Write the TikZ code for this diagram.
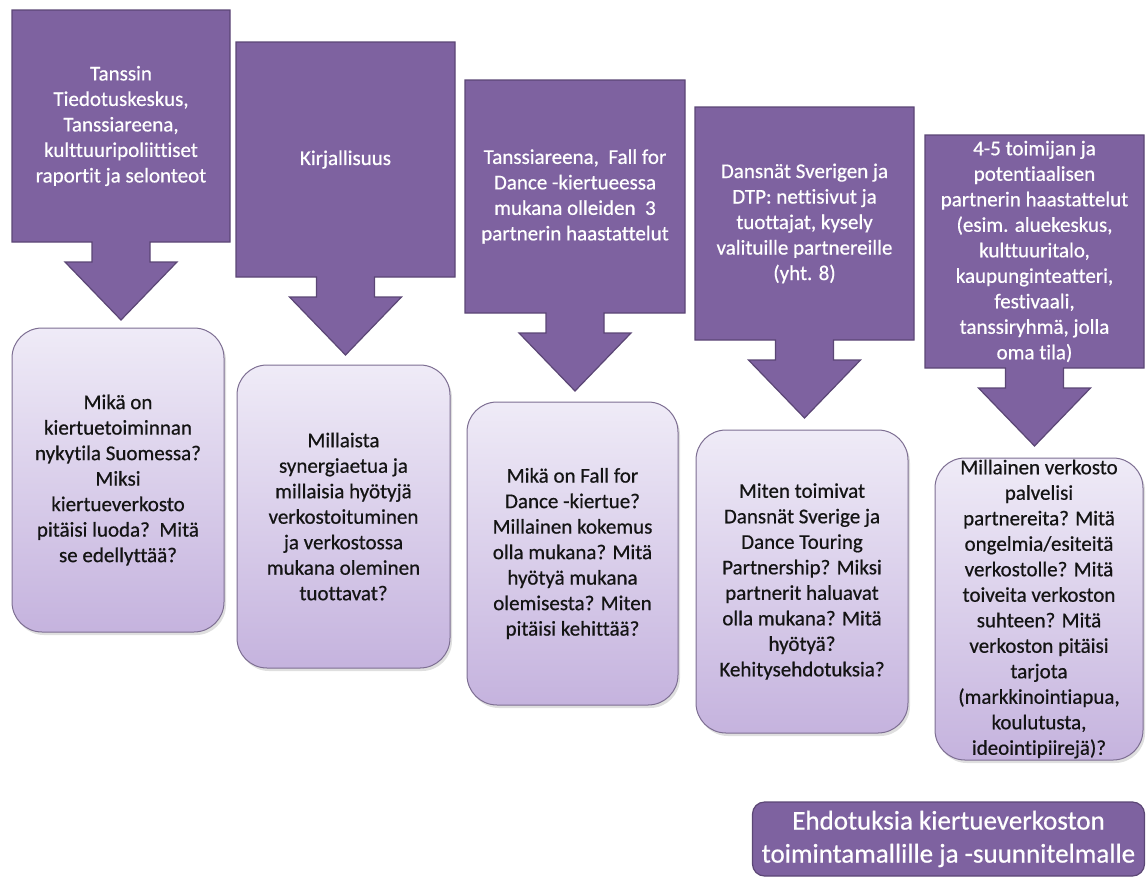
\documentclass[tikz,border=0pt]{standalone}
\usepackage{fontspec}
\setmainfont{Carlito}[FakeBold=0.6, Ligatures={NoCommon}]
\usetikzlibrary{shadows}
\definecolor{arrowfill}{HTML}{7E62A0}
\definecolor{arrowline}{HTML}{5B4675}
\definecolor{boxtop}{HTML}{EFEBF7}
\definecolor{boxbot}{HTML}{C5B3DE}
\definecolor{boxline}{HTML}{7D6E92}
\definecolor{qtext}{HTML}{141414}
\tikzset{
  calloutshape/.style={fill=arrowfill, draw=arrowline, line width=1.2pt, line join=miter},
  callouttext/.style={text=white, align=center, inner sep=0pt, font=\fontsize{21}{25.5}\selectfont},
  qbox/.style={rounded corners=30pt, draw=boxline, line width=1pt, top color=boxtop, bottom color=boxbot,
    text=qtext, align=center, inner sep=0pt, font=\fontsize{21}{25.5}\selectfont,
    drop shadow={shadow xshift=2pt, shadow yshift=-3pt, opacity=0.25}},
  endbox/.style={rounded corners=12pt, fill=arrowfill, draw=arrowline, line width=1.2pt,
    text=white, align=center, inner sep=0pt, font=\fontsize{27}{33}\selectfont}
}
\newcommand\mycallout[6]{%
  \pgfmathsetmacro\cx{(#2+#3)/2}%
  \pgfmathsetmacro\cy{(#4+#5)/2}%
  \draw[calloutshape] (#2,#4) -- (#3,#4) -- (#3,#5) -- ({\cx+29},#5) -- ({\cx+29},{#5+20})
    -- ({\cx+56},{#5+20}) -- (\cx,{#5+78}) -- ({\cx-56},{#5+20}) -- ({\cx-29},{#5+20})
    -- ({\cx-29},#5) -- (#2,#5) -- cycle;
  \node[callouttext] (#1) at (\cx,\cy) {#6};
}
\begin{document}
\begin{tikzpicture}[x=1pt,y=-1pt]
\useasboundingbox (0,0) rectangle (1146,879);

\mycallout{c1}{12}{230}{10}{242}{Tanssin\\Tiedotuskeskus,\\Tanssiareena,\\kulttuuripoliittiset\\raportit ja selonteot}
\mycallout{c2}{236}{455}{42}{277}{Kirjallisuus}
\mycallout{c3}{465}{685}{80}{313}{Tanssiareena,\ \ Fall for\\Dance -kiertueessa\\mukana olleiden\ \ 3\\partnerin haastattelut}
\mycallout{c4}{695}{914}{107}{340}{Dansnät Sverigen ja\\DTP: nettisivut ja\\tuottajat, kysely\\valituille partnereille\\(yht. 8)}
\mycallout{c5}{925}{1144}{135}{368}{4-5 toimijan ja\\potentiaalisen\\partnerin haastattelut\\(esim. aluekeskus,\\kulttuuritalo,\\kaupunginteatteri,\\festivaali,\\tanssiryhmä, jolla\\oma tila)}

\node[qbox, minimum width=212pt, minimum height=304pt] (q1) at (118,480)
  {Mikä on\\kiertuetoiminnan\\nykytila Suomessa?\\Miksi\\kiertueverkosto\\pitäisi luoda?\ \ Mitä\\se edellyttää?};
\node[qbox, minimum width=213pt, minimum height=303pt] (q2) at (343.5,516.5)
  {Millaista\\synergiaetua ja\\millaisia hyötyjä\\verkostoituminen\\ja verkostossa\\mukana oleminen\\tuottavat?};
\node[qbox, minimum width=211pt, minimum height=303pt] (q3) at (572.5,553.5)
  {Mikä on Fall for\\Dance -kiertue?\\Millainen kokemus\\olla mukana? Mitä\\hyötyä mukana\\olemisesta? Miten\\pitäisi kehittää?};
\node[qbox, minimum width=212pt, minimum height=303pt] (q4) at (802,581.5)
  {Miten toimivat\\Dansnät Sverige ja\\Dance Touring\\Partnership? Miksi\\partnerit haluavat\\olla mukana? Mitä\\hyötyä?\\Kehitysehdotuksia?};
\node[qbox, minimum width=208pt, minimum height=302pt] (q5) at (1039,609)
  {Millainen verkosto\\palvelisi\\partnereita? Mitä\\ongelmia/esiteitä\\verkostolle? Mitä\\toiveita verkoston\\suhteen? Mitä\\verkoston pitäisi\\tarjota\\(markkinointiapua,\\koulutusta,\\ideointipiirejä)?};

\node[endbox, minimum width=392pt, minimum height=74pt] (e) at (948.5,839)
  {Ehdotuksia kiertueverkoston\\toimintamallille ja -suunnitelmalle};
\end{tikzpicture}
\end{document}
